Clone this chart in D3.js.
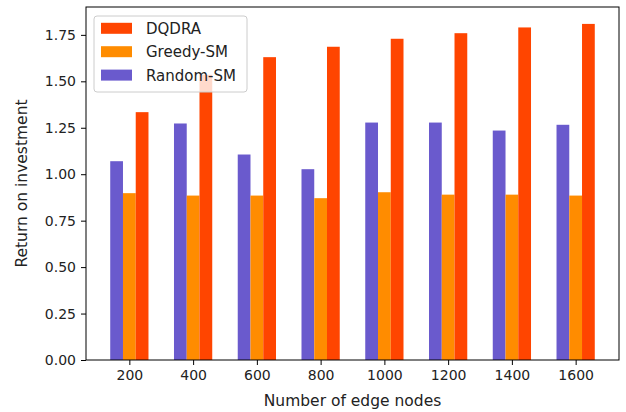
<!DOCTYPE html>
<html>
<head>
<meta charset="utf-8">
<script src="https://cdn.jsdelivr.net/npm/d3@7"></script>
<style>
  body { margin: 0; background: #fff; }
  svg { display: block; font-family: "DejaVu Sans", sans-serif; }
</style>
</head>
<body>
<svg id="chart" width="626" height="412"></svg>
<script>
const categories = ["200", "400", "600", "800", "1000", "1200", "1400", "1600"];
const randomSM = [1.07, 1.273, 1.106, 1.027, 1.278, 1.278, 1.235, 1.266];
const greedySM = [0.898, 0.885, 0.885, 0.871, 0.903, 0.89, 0.89, 0.885];
const dqdra = [1.334, 1.535, 1.63, 1.686, 1.729, 1.759, 1.79, 1.809];
const yTicks = [0, 0.25, 0.5, 0.75, 1.0, 1.25, 1.5, 1.75];

const series = [
  { name: "Random-SM", values: randomSM, color: "#6a5acd", offset: -0.2 },
  { name: "Greedy-SM", values: greedySM, color: "#ff8c00", offset: 0 },
  { name: "DQDRA", values: dqdra, color: "#ff4500", offset: 0.2 }
];
const barW = 0.2;

const svg = d3.select("#chart");
const plotL = 86, plotR = 619, plotT = 7, plotB = 360;

const x = d3.scaleLinear().domain([-0.68, categories.length - 1 + 0.68]).range([plotL, plotR]);
const y = d3.scaleLinear().domain([0, 1.9]).range([plotB, plotT]);

// bars
series.forEach(s => {
  svg.append("g").selectAll("rect")
    .data(s.values).enter().append("rect")
    .attr("x", (d, i) => x(i + s.offset - barW / 2))
    .attr("width", x(barW) - x(0))
    .attr("y", d => y(d))
    .attr("height", d => y(0) - y(d))
    .attr("fill", s.color);
});

// axes
const xAxis = d3.axisBottom(x)
  .tickValues(d3.range(categories.length))
  .tickFormat(i => categories[i])
  .tickSize(5).tickPadding(5);
const yAxis = d3.axisLeft(y)
  .tickValues(yTicks)
  .tickFormat(d3.format(".2f"))
  .tickSize(5).tickPadding(5);

const gx = svg.append("g").attr("transform", `translate(0,${plotB})`).call(xAxis);
const gy = svg.append("g").attr("transform", `translate(${plotL},0)`).call(yAxis);
[gx, gy].forEach(g => {
  g.select(".domain").remove();
  g.selectAll(".tick line").attr("stroke", "#000").attr("stroke-width", 1);
  g.selectAll(".tick text").attr("fill", "#222").style("font-size", "14px")
    .style("font-family", "DejaVu Sans");
});

// frame
svg.append("rect")
  .attr("x", plotL).attr("y", plotT)
  .attr("width", plotR - plotL).attr("height", plotB - plotT)
  .attr("fill", "none").attr("stroke", "#000").attr("stroke-width", 1);

// axis labels
svg.append("text")
  .attr("x", (plotL + plotR) / 2).attr("y", 406)
  .attr("text-anchor", "middle").attr("fill", "#222")
  .style("font-size", "15.5px")
  .text("Number of edge nodes");

svg.append("text")
  .attr("transform", `translate(27,${(plotT + plotB) / 2}) rotate(-90)`)
  .attr("text-anchor", "middle").attr("fill", "#222")
  .style("font-size", "15.5px")
  .text("Return on investment");

// legend
const legend = svg.append("g").attr("transform", "translate(94,16)");
legend.append("rect")
  .attr("width", 153).attr("height", 76).attr("rx", 3)
  .attr("fill", "#fff").attr("fill-opacity", 0.8)
  .attr("stroke", "#ccc").attr("stroke-width", 1);

const legendItems = [series[2], series[1], series[0]];
legendItems.forEach((s, i) => {
  const cy = 12.3 + i * 23.4;
  legend.append("rect")
    .attr("x", 7).attr("y", cy - 5.5)
    .attr("width", 31).attr("height", 11)
    .attr("fill", s.color);
  legend.append("text")
    .attr("x", 52).attr("y", cy)
    .attr("dy", "0.36em").attr("fill", "#222")
    .style("font-size", "15px")
    .text(s.name);
});
</script>
</body>
</html>
